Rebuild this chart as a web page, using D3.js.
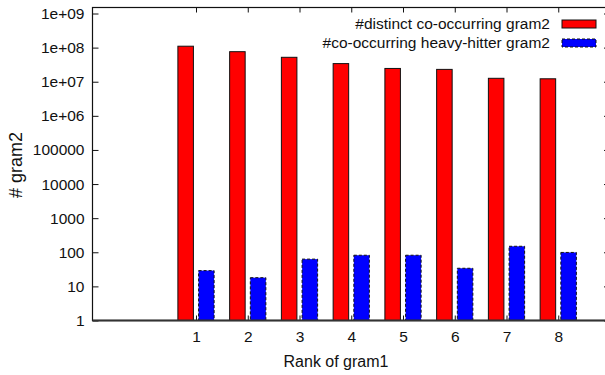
<!DOCTYPE html>
<html>
<head>
<meta charset="utf-8">
<script src="https://cdn.jsdelivr.net/npm/d3@7/dist/d3.min.js"></script>
<style>
  body { margin: 0; background: #fff; }
  svg { display: block; }
  text { font-family: "Liberation Sans", Arial, sans-serif; fill: #111; }
</style>
</head>
<body>
<div id="chart"></div>
<script>
// values
const ranks = [1, 2, 3, 4, 5, 6, 7, 8];
const distinctGram2 = [1.1e8, 7.6e7, 5.2e7, 3.4e7, 2.45e7, 2.3e7, 1.26e7, 1.22e7];
const heavyHitterGram2 = [29, 18, 63, 82, 82, 34, 150, 99];
const seriesNames = ["#distinct co-occurring gram2", "#co-occurring heavy-hitter gram2"];
const yTickValues = [1, 10, 100, 1000, 10000, 100000, 1e6, 1e7, 1e8, 1e9];
const yTickLabels = ["1", "10", "100", "1000", "10000", "100000", "1e+06", "1e+07", "1e+08", "1e+09"];

const width = 605, height = 375;
const margin = { left: 92.5, top: 7.5, right: -5, bottom: 54.5 };

let svg = d3.select("#chart").append("svg")
	.attr("width", width)
	.attr("height", height);

let x = d3.scaleLinear()
	.domain([-1, 9])
	.range([margin.left, width - margin.right]);

let y = d3.scaleLog()
	.domain([1, 1.5e9])
	.range([height - margin.bottom, margin.top]);

const barW = 0.3;

// red bars
svg.append("g").selectAll("rect")
	.data(ranks)
	.join("rect")
	.attr("x", (d) => x(d - 0.05 - barW))
	.attr("width", x(barW) - x(0))
	.attr("y", (d, i) => y(distinctGram2[i]))
	.attr("height", (d, i) => y(1) - y(distinctGram2[i]))
	.attr("fill", "#ff0000")
	.attr("stroke", "#111")
	.attr("stroke-width", 1);

// blue bars, dashed outline
svg.append("g").selectAll("rect")
	.data(ranks)
	.join("rect")
	.attr("x", (d) => x(d + 0.05))
	.attr("width", x(barW) - x(0))
	.attr("y", (d, i) => y(heavyHitterGram2[i]))
	.attr("height", (d, i) => y(1) - y(heavyHitterGram2[i]))
	.attr("fill", "#0000ff")
	.attr("stroke", "#111")
	.attr("stroke-width", 1)
	.attr("stroke-dasharray", "3,2");

// axes (gnuplot style: ticks inward, mirrored)
let leftAxis = svg.append("g")
	.attr("transform", `translate(${margin.left},0)`)
	.call(d3.axisLeft(y).tickValues(yTickValues)
		.tickFormat((d, i) => yTickLabels[i])
		.tickSizeInner(-6).tickSizeOuter(0).tickPadding(8));
leftAxis.select(".domain").remove();
leftAxis.selectAll("line").attr("stroke", "#111");
leftAxis.selectAll("text").style("font-size", "15.5px").attr("fill", "#111");

let rightAxis = svg.append("g")
	.attr("transform", `translate(${width - margin.right},0)`)
	.call(d3.axisRight(y).tickValues(yTickValues).tickFormat("")
		.tickSizeInner(-6).tickSizeOuter(0));
rightAxis.select(".domain").remove();
rightAxis.selectAll("line").attr("stroke", "#111");

let bottomAxis = svg.append("g")
	.attr("transform", `translate(0,${height - margin.bottom})`)
	.call(d3.axisBottom(x).tickValues(ranks).tickFormat(d3.format("d"))
		.tickSizeInner(-5).tickSizeOuter(0).tickPadding(10));
bottomAxis.select(".domain").remove();
bottomAxis.selectAll("line").attr("stroke", "#111");
bottomAxis.selectAll("text").style("font-size", "15.5px").attr("fill", "#111");

let topAxis = svg.append("g")
	.attr("transform", `translate(0,${margin.top})`)
	.call(d3.axisTop(x).tickValues(ranks).tickFormat("")
		.tickSizeInner(-5).tickSizeOuter(0));
topAxis.select(".domain").remove();
topAxis.selectAll("line").attr("stroke", "#111");

// frame
svg.append("rect")
	.attr("x", margin.left)
	.attr("y", margin.top)
	.attr("width", x.range()[1] - x.range()[0])
	.attr("height", y.range()[0] - y.range()[1])
	.attr("fill", "none")
	.attr("stroke", "#111")
	.attr("stroke-width", 1.2);

svg.append("line")
	.attr("x1", margin.left).attr("x2", width)
	.attr("y1", y(1)).attr("y2", y(1))
	.attr("stroke", "#333")
	.attr("stroke-width", 2);

// legend
let legend = svg.append("g");
const legendFills = ["#ff0000", "#0000ff"];
seriesNames.forEach((name, i) => {
	let ly = 24 + i * 19;
	legend.append("text")
		.attr("x", 550).attr("y", ly)
		.attr("dy", "0.35em")
		.attr("text-anchor", "end")
		.style("font-size", "15.5px")
		.text(name);
	legend.append("rect")
		.attr("x", 562).attr("y", ly - 4)
		.attr("width", 34).attr("height", 8)
		.attr("fill", legendFills[i])
		.attr("stroke", "#111")
		.attr("stroke-dasharray", i == 1 ? "3,2" : null);
});

// axis titles
svg.append("text")
	.attr("x", 336).attr("y", 367)
	.attr("text-anchor", "middle")
	.style("font-size", "16px")
	.text("Rank of gram1");

svg.append("text")
	.attr("transform", `translate(22,165) rotate(-90)`)
	.attr("text-anchor", "middle")
	.style("font-size", "18px")
	.text("# gram2");
</script>
</body>
</html>
